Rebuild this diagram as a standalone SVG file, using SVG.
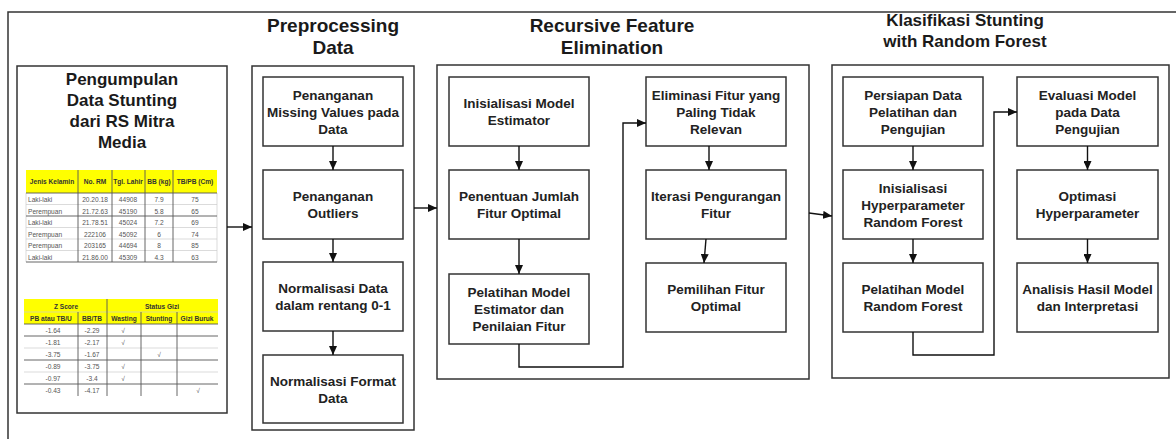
<svg xmlns="http://www.w3.org/2000/svg" width="1176" height="439" viewBox="0 0 1176 439">
<defs>
<marker id="ah" markerUnits="userSpaceOnUse" markerWidth="9" markerHeight="8" refX="9" refY="4" orient="auto">
<path d="M0,0 L9,4 L0,8 z" fill="#111"/>
</marker>
<style>
.sec{fill:#fff;stroke:#333;stroke-width:1.5}
.box{fill:#fff;stroke:#333;stroke-width:1.5}
.title{font-family:"Liberation Sans",Arial,sans-serif;font-weight:bold;fill:#1a1a1a;text-anchor:middle}
.t{font-family:"Liberation Sans",Arial,sans-serif;font-weight:bold;font-size:13.5px;fill:#222;text-anchor:middle}
.c{fill:none;stroke:#111;stroke-width:1.4}
.th{font-family:"Liberation Sans",Arial,sans-serif;font-weight:bold;font-size:6.6px;fill:#333;text-anchor:middle}
.td{font-family:"Liberation Sans",Arial,sans-serif;font-size:6.6px;fill:#555;text-anchor:middle}
.tl{text-anchor:start}
.lg{stroke:#ccc;stroke-width:0.7}
.ld{stroke:#555;stroke-width:0.9}
</style>
</defs>
<rect width="1176" height="439" fill="#fff"/>
<path d="M8,439 V12 H1176" fill="none" stroke="#333" stroke-width="1.5"/>

<g id="collection">
<rect class="sec" x="17" y="66" width="210" height="347"/>
<text class="title" font-size="17" x="122"><tspan x="122" y="85">Pengumpulan</tspan><tspan x="122" y="106">Data Stunting</tspan><tspan x="122" y="127">dari RS Mitra</tspan><tspan x="122" y="148">Media</tspan></text>
<g id="table1">
<rect x="26" y="170" width="191" height="23" fill="#ffff00"/>
<g class="lg">
<line x1="26" y1="204.5" x2="217" y2="204.5"/>
<line x1="26" y1="227.5" x2="217" y2="227.5"/>
<line x1="26" y1="239" x2="217" y2="239"/>
<line x1="26" y1="250.5" x2="217" y2="250.5"/>
<line x1="26" y1="193" x2="26" y2="262"/>
<line x1="217" y1="193" x2="217" y2="262"/>
</g>
<g class="ld">
<line x1="26" y1="193" x2="217" y2="193"/>
<line x1="26" y1="216" x2="217" y2="216"/>
<line x1="26" y1="262" x2="217" y2="262"/>
<line x1="78" y1="170" x2="78" y2="262"/>
<line x1="112" y1="170" x2="112" y2="262"/>
<line x1="145" y1="170" x2="145" y2="262"/>
<line x1="173" y1="170" x2="173" y2="262"/>
</g>
<text class="th" x="52" y="184">Jenis Kelamin</text>
<text class="th" x="95" y="184">No. RM</text>
<text class="th" x="128" y="184">Tgl. Lahir</text>
<text class="th" x="159" y="184">BB (kg)</text>
<text class="th" x="195" y="184">TB/PB (Cm)</text>
<g class="td">
<text class="td tl" x="28" y="202">Laki-laki</text><text x="95" y="202">20.20.18</text><text x="128" y="202">44908</text><text x="159" y="202">7.9</text><text x="195" y="202">75</text>
<text class="td tl" x="28" y="213.5">Perempuan</text><text x="95" y="213.5">21.72.63</text><text x="128" y="213.5">45190</text><text x="159" y="213.5">5.8</text><text x="195" y="213.5">65</text>
<text class="td tl" x="28" y="225">Laki-laki</text><text x="95" y="225">21.78.51</text><text x="128" y="225">45024</text><text x="159" y="225">7.2</text><text x="195" y="225">69</text>
<text class="td tl" x="28" y="236.5">Perempuan</text><text x="95" y="236.5">222106</text><text x="128" y="236.5">45092</text><text x="159" y="236.5">6</text><text x="195" y="236.5">74</text>
<text class="td tl" x="28" y="248">Perempuan</text><text x="95" y="248">203165</text><text x="128" y="248">44694</text><text x="159" y="248">8</text><text x="195" y="248">85</text>
<text class="td tl" x="28" y="259.5">Laki-laki</text><text x="95" y="259.5">21.86.00</text><text x="128" y="259.5">45309</text><text x="159" y="259.5">4.3</text><text x="195" y="259.5">63</text>
</g>
</g>
<g id="table2">
<rect x="24" y="299" width="194" height="25" fill="#ffff00"/>
<g class="lg">
<line x1="24" y1="312" x2="218" y2="312"/>
<line x1="24" y1="348" x2="218" y2="348"/>
<line x1="24" y1="372" x2="218" y2="372"/>
</g>
<g class="ld">
<line x1="24" y1="324" x2="218" y2="324"/>
<line x1="24" y1="336" x2="218" y2="336"/>
<line x1="24" y1="360" x2="218" y2="360"/>
<line x1="24" y1="384" x2="218" y2="384"/>
<line x1="107" y1="299" x2="107" y2="396"/>
<line x1="78" y1="312" x2="78" y2="396"/>
<line x1="141" y1="312" x2="141" y2="396"/>
<line x1="177" y1="312" x2="177" y2="396"/>
</g>
<text class="th" x="66" y="308.5">Z Score</text>
<text class="th" x="162" y="308.5">Status Gizi</text>
<text class="th" x="51" y="321">PB atau TB/U</text>
<text class="th" x="92" y="321">BB/TB</text>
<text class="th" x="124" y="321">Wasting</text>
<text class="th" x="159" y="321">Stunting</text>
<text class="th" x="197" y="321">Gizi Buruk</text>
<g class="td">
<text x="53" y="333">-1.64</text><text x="92" y="333">-2.29</text><text x="123" y="333">√</text>
<text x="53" y="345">-1.81</text><text x="92" y="345">-2.17</text><text x="123" y="345">√</text>
<text x="53" y="357">-3.75</text><text x="92" y="357">-1.67</text><text x="159" y="357">√</text>
<text x="53" y="369">-0.89</text><text x="92" y="369">-3.75</text><text x="123" y="369">√</text>
<text x="53" y="381">-0.97</text><text x="92" y="381">-3.4</text><text x="123" y="381">√</text>
<text x="53" y="393">-0.43</text><text x="92" y="393">-4.17</text><text x="198" y="393">√</text>
</g>
</g>
</g>

<g id="preprocessing">
<text class="title" font-size="19" x="333"><tspan x="333" y="32">Preprocessing</tspan><tspan x="333" y="54">Data</tspan></text>
<rect class="sec" x="252" y="66" width="162" height="364"/>
<g id="pp1"><rect class="box" x="263" y="77" width="140" height="69"/>
<text class="t"><tspan x="333" y="99.5">Penanganan</tspan><tspan x="333" y="116.5">Missing Values pada</tspan><tspan x="333" y="133.5">Data</tspan></text></g>
<g id="pp2"><rect class="box" x="263" y="170" width="140" height="69"/>
<text class="t"><tspan x="333" y="201">Penanganan</tspan><tspan x="333" y="218">Outliers</tspan></text></g>
<g id="pp3"><rect class="box" x="263" y="262" width="140" height="69"/>
<text class="t"><tspan x="333" y="293">Normalisasi Data</tspan><tspan x="333" y="310">dalam rentang 0-1</tspan></text></g>
<g id="pp4"><rect class="box" x="263" y="355" width="140" height="68"/>
<text class="t"><tspan x="333" y="385.5">Normalisasi Format</tspan><tspan x="333" y="402.5">Data</tspan></text></g>
</g>

<g id="rfe">
<text class="title" font-size="19" x="612"><tspan x="612" y="32">Recursive Feature</tspan><tspan x="612" y="54">Elimination</tspan></text>
<rect class="sec" x="437" y="65" width="372" height="314"/>
<g id="rfe1"><rect class="box" x="449" y="77" width="140" height="69"/>
<text class="t"><tspan x="519" y="108">Inisialisasi Model</tspan><tspan x="519" y="125">Estimator</tspan></text></g>
<g id="rfe2"><rect class="box" x="449" y="170" width="140" height="69"/>
<text class="t"><tspan x="519" y="201">Penentuan Jumlah</tspan><tspan x="519" y="218">Fitur Optimal</tspan></text></g>
<g id="rfe3"><rect class="box" x="449" y="274" width="140" height="70"/>
<text class="t"><tspan x="519" y="297">Pelatihan Model</tspan><tspan x="519" y="314">Estimator dan</tspan><tspan x="519" y="331">Penilaian Fitur</tspan></text></g>
<g id="rfe4"><rect class="box" x="646" y="77" width="140" height="69"/>
<text class="t"><tspan x="716" y="99.5">Eliminasi Fitur yang</tspan><tspan x="716" y="116.5">Paling Tidak</tspan><tspan x="716" y="133.5">Relevan</tspan></text></g>
<g id="rfe5"><rect class="box" x="646" y="170" width="140" height="69"/>
<text class="t"><tspan x="716" y="201">Iterasi Pengurangan</tspan><tspan x="716" y="218">Fitur</tspan></text></g>
<g id="rfe6"><rect class="box" x="646" y="263" width="140" height="69"/>
<text class="t"><tspan x="716" y="294">Pemilihan Fitur</tspan><tspan x="716" y="311">Optimal</tspan></text></g>
</g>

<g id="klasifikasi">
<text class="title" font-size="17" x="965"><tspan x="965" y="26">Klasifikasi Stunting</tspan><tspan x="965" y="47">with Random Forest</tspan></text>
<rect class="sec" x="832" y="65" width="337" height="313"/>
<g id="k1"><rect class="box" x="843" y="77" width="140" height="69"/>
<text class="t"><tspan x="913" y="99.5">Persiapan Data</tspan><tspan x="913" y="116.5">Pelatihan dan</tspan><tspan x="913" y="133.5">Pengujian</tspan></text></g>
<g id="k2"><rect class="box" x="843" y="170" width="140" height="69"/>
<text class="t"><tspan x="913" y="192.5">Inisialisasi</tspan><tspan x="913" y="209.5">Hyperparameter</tspan><tspan x="913" y="226.5">Random Forest</tspan></text></g>
<g id="k3"><rect class="box" x="843" y="263" width="140" height="69"/>
<text class="t"><tspan x="913" y="294">Pelatihan Model</tspan><tspan x="913" y="311">Random Forest</tspan></text></g>
<g id="k4"><rect class="box" x="1017" y="77" width="141" height="69"/>
<text class="t"><tspan x="1087.5" y="99.5">Evaluasi Model</tspan><tspan x="1087.5" y="116.5">pada Data</tspan><tspan x="1087.5" y="133.5">Pengujian</tspan></text></g>
<g id="k5"><rect class="box" x="1017" y="170" width="141" height="69"/>
<text class="t"><tspan x="1087.5" y="201">Optimasi</tspan><tspan x="1087.5" y="218">Hyperparameter</tspan></text></g>
<g id="k6"><rect class="box" x="1017" y="263" width="141" height="69"/>
<text class="t"><tspan x="1087.5" y="294">Analisis Hasil Model</tspan><tspan x="1087.5" y="311">dan Interpretasi</tspan></text></g>
</g>

<g id="connectors">
<line class="c" x1="227" y1="227" x2="252" y2="227" marker-end="url(#ah)"/>
<line class="c" x1="414" y1="208" x2="437" y2="208" marker-end="url(#ah)"/>
<line class="c" x1="809" y1="213" x2="832" y2="216" marker-end="url(#ah)"/>
<line class="c" x1="333" y1="146" x2="333" y2="170" marker-end="url(#ah)"/>
<line class="c" x1="333" y1="239" x2="333" y2="262" marker-end="url(#ah)"/>
<line class="c" x1="333" y1="331" x2="333" y2="355" marker-end="url(#ah)"/>
<line class="c" x1="519" y1="146" x2="519" y2="170" marker-end="url(#ah)"/>
<line class="c" x1="519" y1="239" x2="519" y2="274" marker-end="url(#ah)"/>
<polyline class="c" points="519,344 519,367 623,367 623,123 646,123" marker-end="url(#ah)"/>
<line class="c" x1="709" y1="146" x2="709" y2="170" marker-end="url(#ah)"/>
<line class="c" x1="706" y1="239" x2="704" y2="263" marker-end="url(#ah)"/>
<line class="c" x1="913" y1="146" x2="913" y2="170" marker-end="url(#ah)"/>
<line class="c" x1="913" y1="239" x2="913" y2="263" marker-end="url(#ah)"/>
<polyline class="c" points="913,332 913,355 994,355 994,112 1017,112" marker-end="url(#ah)"/>
<line class="c" x1="1087.5" y1="146" x2="1087.5" y2="170" marker-end="url(#ah)"/>
<line class="c" x1="1087.5" y1="239" x2="1087.5" y2="263" marker-end="url(#ah)"/>
</g>
</svg>
